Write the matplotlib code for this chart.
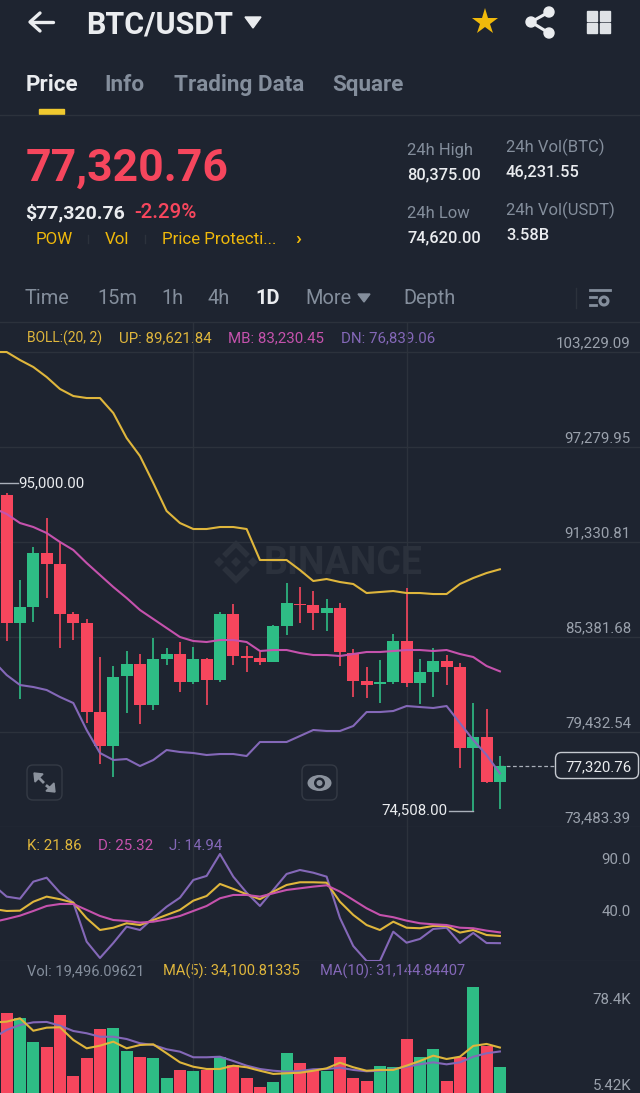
import numpy as np
import matplotlib
matplotlib.use('Agg')
import matplotlib.pyplot as plt
from matplotlib.patches import FancyBboxPatch, Ellipse, Circle, Polygon, Rectangle

# daily candles
opens = [94273, 86239, 87278, 90641, 89952, 86821, 86257, 80684, 78555, 82939,
         83690, 81123, 84003, 84316, 82563, 84003, 82688, 86821, 84191, 84066,
         83815, 86070, 87479, 87385, 86884, 87197, 84379, 82626, 82438, 82563,
         85130, 82500, 83189, 83878, 83502, 78430, 79119, 76301]
highs = [94417, 88950, 91017, 92833, 91330, 86946, 86508, 84128, 83565, 84504,
         84316, 85318, 84692, 85068, 84755, 84060, 86946, 87447, 84817, 84442,
         86133, 88762, 88512, 88261, 87760, 87510, 84629, 83502, 83941, 85569,
         88449, 84003, 84692, 84254, 83753, 81248, 80872, 77929]
lows = [85130, 81498, 86320, 87823, 84692, 85193, 79995, 77428, 76614, 80622,
        79933, 80810, 83627, 81937, 82438, 81123, 82563, 83627, 83189, 83627,
        83815, 85506, 86257, 85819, 85757, 83565, 81624, 81561, 81248, 82438,
        82250, 81185, 81624, 82375, 77178, 74508, 76238, 74620]
closes = [86257, 87278, 90641, 89952, 86821, 86257, 80684, 78555, 82876, 83690,
          81123, 84003, 84316, 82563, 84003, 82688, 86821, 84191, 84066, 83815,
          86070, 87510, 87385, 86884, 87197, 84442, 82626, 82375, 82563, 85130,
          82500, 83189, 83878, 83502, 78430, 79119, 76301, 77320.76]

# indicator lines start one candle earlier, off the left edge
boll_up = [103228, 103228, 102727, 102288, 101662, 100911, 100472, 100347, 100347, 99408,
           97842, 96715, 95024, 93271, 92519, 92144, 92144, 92269, 92269, 92144,
           90203, 90203, 90203, 89576, 88888, 89013, 88825, 88700, 88136, 88199,
           88261, 88136, 88136, 88073, 88073, 88700, 89075, 89388, 89621.84]
boll_mb = [93459, 93083, 92519, 92269, 91893, 91330, 90829, 90015, 89263, 88512,
           87823, 87072, 86508, 85944, 85381, 85130, 85068, 85193, 85193, 85068,
           84504, 84567, 84567, 84379, 84254, 84254, 84191, 84316, 84442, 84442,
           84504, 84567, 84567, 84504, 84567, 84316, 84128, 83565, 83230.45]
boll_dn = [83878, 83001, 82375, 82250, 82062, 81624, 81248, 79557, 78117, 77679,
           77741, 77303, 77679, 78305, 78180, 78117, 77992, 78054, 78054, 77929,
           78806, 78806, 78806, 79181, 79557, 79495, 79495, 79808, 80684, 80684,
           80747, 81060, 80997, 80935, 81060, 79995, 78931, 77992, 76839.06]

kdj_k = [47.8, 45.9, 46.2, 54.8, 59.7, 57.2, 53.9, 38.9, 27.6, 29.8,
         34.1, 32.4, 37.2, 42.1, 46.9, 55.8, 60.3, 71.9, 67.1, 62.0,
         57.2, 64.5, 70.9, 73.5, 73.5, 73.1, 54.8, 42.1, 32.4, 27.6,
         35.6, 29.8, 29.3, 31.5, 31.5, 25.1, 27.6, 22.8, 21.86]
kdj_d = [35.3, 38.2, 41.4, 45.9, 50.7, 52.6, 52.6, 46.9, 41.1, 37.2,
         36.3, 34.7, 35.6, 37.9, 41.1, 45.9, 50.7, 58.1, 61.3, 61.3,
         59.7, 62.9, 66.1, 67.7, 69.3, 70.6, 64.5, 56.5, 48.5, 42.1,
         39.9, 36.6, 34.1, 33.1, 32.4, 29.8, 29.3, 27.0, 25.32]
kdj_j = [70.9, 59.7, 57.7, 74.1, 77.9, 63.5, 53.9, 16.4, 0.7, 15.1,
         30.8, 27.6, 39.2, 50.0, 58.7, 75.7, 79.6, 100.7, 78.9, 63.5,
         50.7, 66.1, 81.5, 85.3, 82.7, 78.9, 39.2, 12.2, -2.2, -2.2,
         26.0, 15.4, 19.0, 28.6, 29.8, 15.1, 24.8, 15.1, 14.94]

# volume in thousands of BTC
volumes = [59.8, 56.0, 38.0, 34.3, 58.5, 12.75, 26.0, 47.8, 49.0, 31.7,
           27.2, 26.5, 11.0, 17.3, 16.7, 17.3, 27.2, 21.0, 11.5, 4.7,
           8.0, 29.8, 22.7, 17.3, 16.7, 27.2, 11.0, 9.2, 20.3, 19.7,
           40.3, 27.2, 33.0, 9.0, 27.2, 79.3, 35.3, 19.496]
vol_ma5 = [52.9, 53.5, 56.0, 46.7, 49.0, 49.3, 39.8, 33.5, 35.5, 38.5,
           33.5, 36.0, 36.5, 29.8, 23.0, 19.7, 18.0, 18.0, 20.5, 19.3,
           16.7, 14.3, 14.8, 15.2, 16.7, 18.5, 22.7, 19.3, 16.7, 17.3,
           17.3, 20.5, 24.0, 28.0, 25.5, 27.2, 35.3, 36.8, 34.10]
vol_ma10 = [41.3, 47.3, 51.0, 53.0, 53.3, 50.5, 46.5, 44.8, 42.2, 42.2,
            40.5, 37.3, 36.0, 32.8, 31.0, 26.8, 26.8, 27.2, 24.0, 20.5,
            18.0, 16.7, 16.0, 16.5, 17.8, 18.0, 19.0, 17.3, 16.3, 16.7,
            17.8, 19.7, 21.5, 23.0, 21.5, 23.0, 27.2, 29.8, 31.14]

price_ticks = [103229.09, 97279.95, 91330.81, 85381.68, 79432.54, 73483.39]
kdj_ticks = [90, 40]
vol_ticks = [78.4, 5.42]
grid_days = [14, 30]
last_price = 77320.76
high_mark = 95000.00
low_mark = 74508.00

#configuration
W, H = 640, 1093
BG = '#1e2430'
GRID = '#2c323c'
RED = '#f6465d'
GREEN = '#2ebd85'
GOLD = '#f0b90b'
YELLOW = '#dfb63c'
PINK = '#c552ad'
PURPLE = '#8468b8'
GREY = '#848e9c'
AXIS_TXT = '#9aa1ac'
WHITE = '#eaecef'
SMALL = 10.8
LW = 1.5

plt.rcParams['font.family'] = ['Roboto', 'DejaVu Sans']

fig = plt.figure(figsize=(W / 100, H / 100), dpi=100, facecolor=BG)

# full size layer for the app interface, in screen pixels
ui = fig.add_axes([0, 0, 1, 1])
ui.set_xlim(0, W)
ui.set_ylim(H, 0)
ui.axis('off')


def put(x, y, s, size, color=WHITE, weight='normal', ha='left'):
    ui.text(x, y, s, fontsize=size, color=color, fontweight=weight, ha=ha, va='center')


def pane(top, bottom):
    ax = fig.add_axes([0, 1 - bottom / H, 1, (bottom - top) / H])
    ax.patch.set_alpha(0)
    for s in ax.spines.values():
        s.set_visible(False)
    ax.set_xlim(-0.5, 47.51)
    ax.set_xticks(grid_days)
    ax.tick_params(length=0, labelbottom=False, labelleft=False)
    ax.grid(axis='x', color=GRID, lw=1)
    ax.set_axisbelow(True)
    return ax


def right_label(ax, value, text, dy=0.0):
    ax.annotate(text, xy=(1, value), xycoords=('axes fraction', 'data'),
                xytext=(-6.5, dy), textcoords='offset points',
                ha='right', va='center', fontsize=SMALL, color=AXIS_TXT)


# header
ui.plot([31, 53], [22, 22], color=WHITE, lw=2.4, solid_capstyle='round')
ui.plot([40, 30, 40], [13, 22, 31], color=WHITE, lw=2.4, solid_capstyle='round', solid_joinstyle='round')
put(86, 24, 'BTC/USDT', 22, WHITE, 'bold')
ui.add_patch(Polygon([[245, 17], [261, 17], [253, 28]], closed=True, color=WHITE))
ui.plot(485, 22, marker='*', ms=20, color=GOLD, mew=0)
ui.plot([549, 531, 549], [12, 22, 33], color=WHITE, lw=2.2)
for cx, cy in [(549, 12), (531, 22), (549, 33)]:
    ui.add_patch(Circle((cx, cy), 5, color=WHITE))
for cx in (586.5, 599.5):
    for cy in (11, 23):
        ui.add_patch(Rectangle((cx, cy), 10, 10, color='#dfe2e6'))

# tabs
put(26, 85, 'Price', 16.2, WHITE, 'bold')
put(104, 85, 'Info', 16.2, GREY, 'bold')
put(174, 85, 'Trading Data', 16.2, GREY, 'bold')
put(332, 85, 'Square', 16.2, GREY, 'bold')
ui.add_patch(Rectangle((39, 109), 25, 5, color='#f0c92f'))
ui.plot([0, W], [115, 115], color=GRID, lw=1)

# price block
put(26, 169, '77,320.76', 32, RED, 'bold')
put(25, 213, '$77,320.76', 14, WHITE, 'bold')
put(134, 213, '-2.29%', 14.8, RED, 'medium')
put(36, 240, 'POW', 12.2, GOLD)
put(105, 240, 'Vol', 12.2, GOLD)
put(162, 240, 'Price Protecti...', 12.2, GOLD)
put(295, 239, '›', 14, GOLD, 'bold')
for sep in (88, 145):
    ui.plot([sep, sep], [235, 243], color=GRID, lw=1)

put(407, 150, '24h High', 12, GREY)
put(407, 175, '80,375.00', 11.8, WHITE, 'medium')
put(407, 214, '24h Low', 12, GREY)
put(407, 238, '74,620.00', 11.8, WHITE, 'medium')
put(506, 147, '24h Vol(BTC)', 12, GREY)
put(506, 172, '46,231.55', 11.8, WHITE, 'medium')
put(506, 210, '24h Vol(USDT)', 12, GREY)
put(506, 235, '3.58B', 11.8, WHITE, 'medium')

# interval row
for x, s in [(25, 'Time'), (97, '15m'), (161, '1h'), (207, '4h'), (305, 'More'), (403, 'Depth')]:
    put(x, 299, s, 14.4, GREY)
put(255, 299, '1D', 14.4, WHITE, 'bold')
ui.add_patch(Polygon([[358, 294], [370, 294], [364, 302]], closed=True, color=GREY))
ui.plot([576, 576], [288, 308], color=GRID, lw=1)
ui.plot([590, 610], [290, 290], color=GREY, lw=2)
ui.plot([590, 596], [297, 297], color=GREY, lw=2)
ui.plot([590, 596], [305, 305], color=GREY, lw=2)
ui.add_patch(Circle((604, 301), 4, fill=False, ec=GREY, lw=2.2))
ui.plot([0, W], [322, 322], color=GRID, lw=1)

# faint watermark behind the chart
WM = '#2b313c'
put(264, 563, 'BINANCE', 27, WM, 'bold')
ui.plot([219, 236, 253], [562, 562, 562], ls='', marker='D', ms=5.5, color=WM, mew=0)
ui.plot([226, 236, 246], [554, 544, 554], color=WM, lw=4, solid_joinstyle='miter')
ui.plot([226, 236, 246], [570, 580, 570], color=WM, lw=4, solid_joinstyle='miter')

# indicator captions
put(27, 338, 'BOLL:(20, 2)', 10, YELLOW)
put(119, 338, 'UP: 89,621.84', SMALL, YELLOW)
put(228, 338, 'MB: 83,230.45', SMALL, PINK)
put(341, 338, 'DN: 76,839.06', SMALL, PURPLE)
put(27, 846, 'K: 21.86', SMALL, YELLOW)
put(98, 846, 'D: 25.32', SMALL, PINK)
put(169, 846, 'J: 14.94', SMALL, PURPLE)
put(27, 971, 'Vol: 19,496.09621', 10.5, GREY)
put(163, 971, 'MA(5): 34,100.81335', 10.5, YELLOW)
put(320, 971, 'MA(10): 31,144.84407', 10.5, PURPLE)

# chart buttons
ICON = '#8b929d'
for bx in (27, 302):
    ui.add_patch(FancyBboxPatch((bx, 765), 35, 35, boxstyle='round,pad=0,rounding_size=6',
                                fc=BG, ec='#343a45', lw=1))
ui.plot([38, 43], [777, 782], color=ICON, lw=2)
ui.plot([47, 52], [786, 790], color=ICON, lw=2)
ui.add_patch(Polygon([[34, 773], [43, 774], [35, 782]], closed=True, color=ICON))
ui.add_patch(Polygon([[55, 792], [46, 791], [54, 783]], closed=True, color=ICON))
ui.add_patch(Ellipse((319.5, 783), 24, 16, fc=ICON, ec='none'))
ui.add_patch(Circle((319.5, 783), 5.5, fc=BG, ec='none'))
ui.add_patch(Circle((319.5, 783), 3, fc=ICON, ec='none'))

days = np.arange(len(opens))
line_days = np.arange(-1, len(opens))
colors = [GREEN if c >= o else RED for o, c in zip(opens, closes)]

# price pane: each tick is 95 px apart
PX_PRICE = (price_ticks[0] - price_ticks[1]) / 95
ax_p = pane(322, 827)
ax_p.set_ylim(price_ticks[-1], price_ticks[-1] + 505 * PX_PRICE)
ax_p.set_yticks(price_ticks)
ax_p.grid(axis='y', color=GRID, lw=1)
ax_p.vlines(days, lows, highs, colors=colors, lw=1.2, zorder=2)
ax_p.bar(days, np.abs(np.subtract(closes, opens)), bottom=np.minimum(opens, closes),
         width=0.9, color=colors, zorder=3)
ax_p.plot(line_days, boll_up, color=YELLOW, lw=LW, zorder=4)
ax_p.plot(line_days, boll_mb, color=PINK, lw=LW, zorder=4)
ax_p.plot(line_days, boll_dn, color=PURPLE, lw=LW, zorder=4)
for t in price_ticks:
    right_label(ax_p, t, f'{t:,.2f}', dy=6.5)

# high / low marks
ax_p.plot([-0.5, 0.85], [high_mark, high_mark], color='#aab0ba', lw=1)
ax_p.text(0.9, high_mark, f'{high_mark:,.2f}', color=WHITE, fontsize=SMALL, va='center')
ax_p.plot([33.2, 35], [low_mark, low_mark], color='#aab0ba', lw=1)
ax_p.text(33.1, low_mark, f'{low_mark:,.2f}', color=WHITE, fontsize=SMALL, va='center', ha='right')

# current price tag
ax_p.plot([37, 41.2], [last_price, last_price], color='#aab0ba', lw=0.9, ls=(0, (3, 2)))
ui.add_patch(FancyBboxPatch((555.5, 752.5), 83, 26, boxstyle='round,pad=0,rounding_size=6',
                            fc=BG, ec='#c5c9d0', lw=1))
put(598, 767, f'{last_price:,.2f}', SMALL, WHITE, ha='center')

# KDJ pane
PX_KDJ = 0.9615
ax_k = pane(827, 961)
ax_k.set_ylim(kdj_j[28], kdj_j[28] + 134 * PX_KDJ)
ax_k.set_yticks([kdj_j[28]])
ax_k.grid(axis='y', color=GRID, lw=1)
ax_k.plot(line_days, kdj_j, color=PURPLE, lw=LW, zorder=3)
ax_k.plot(line_days, kdj_k, color=YELLOW, lw=LW, zorder=4)
ax_k.plot(line_days, kdj_d, color=PINK, lw=LW, zorder=4)
for t in kdj_ticks:
    right_label(ax_k, t, f'{t:.1f}', dy=3.6)

# volume pane
ax_v = pane(961, 1093)
ax_v.set_ylim(0, 132 * 0.75)
ax_v.set_yticks([])
ax_v.bar(days, volumes, width=0.9, color=colors, zorder=2)
ax_v.plot(line_days, vol_ma10, color=PURPLE, lw=LW, zorder=3)
ax_v.plot(line_days, vol_ma5, color=YELLOW, lw=LW, zorder=4)
for t, dy in zip(vol_ticks, (-8, 0)):
    right_label(ax_v, t, f'{t}K', dy=dy)

fig.savefig('out.png', dpi=100, facecolor=BG)
